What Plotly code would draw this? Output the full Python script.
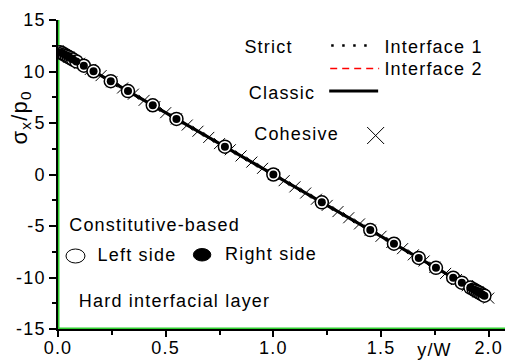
import plotly.graph_objects as go

# ---------------- data ----------------
line_x = [0.0, 0.5, 1.0, 1.5, 2.0]
strict_interface1 = [12.0, 6.0, 0.0, -6.0, -12.0]
strict_interface2 = [12.0, 6.0, 0.0, -6.0, -12.0]
classic = [12.0, 6.0, 0.0, -6.0, -12.0]

cohesive_x = [0.00, 0.05, 0.10, 0.15, 0.20, 0.25, 0.30, 0.35, 0.40, 0.45,
              0.50, 0.55, 0.60, 0.65, 0.70, 0.75, 0.80, 0.85, 0.90, 0.95,
              1.00, 1.05, 1.10, 1.15, 1.20, 1.25, 1.30, 1.35, 1.40, 1.45,
              1.50, 1.55, 1.60, 1.65, 1.70, 1.75, 1.80, 1.85, 1.90, 1.95, 2.00]
cohesive_y = [12.0, 11.4, 10.8, 10.2, 9.6, 9.0, 8.4, 7.8, 7.2, 6.6,
              6.0, 5.4, 4.8, 4.2, 3.6, 3.0, 2.4, 1.8, 1.2, 0.6,
              0.0, -0.6, -1.2, -1.8, -2.4, -3.0, -3.6, -4.2, -4.8, -5.4,
              -6.0, -6.6, -7.2, -7.8, -8.4, -9.0, -9.6, -10.2, -10.8, -11.4, -12.0]

const_x = [0.01, 0.02, 0.03, 0.04, 0.05, 0.06, 0.07, 0.085, 0.12, 0.165,
           0.245, 0.325, 0.44, 0.55, 0.775, 1.0, 1.225, 1.45, 1.56, 1.675,
           1.755, 1.835, 1.875, 1.915, 1.93, 1.94, 1.95, 1.96, 1.97, 1.98]
left_side = [11.88, 11.76, 11.64, 11.52, 11.40, 11.28, 11.16, 10.98, 10.56, 10.02,
             9.06, 8.10, 6.72, 5.40, 2.70, 0.00, -2.70, -5.40, -6.72, -8.10,
             -9.06, -10.02, -10.50, -10.98, -11.16, -11.28, -11.40, -11.52, -11.64, -11.76]
right_side = [11.88, 11.76, 11.64, 11.52, 11.40, 11.28, 11.16, 10.98, 10.56, 10.02,
              9.06, 8.10, 6.72, 5.40, 2.70, 0.00, -2.70, -5.40, -6.72, -8.10,
              -9.06, -10.02, -10.50, -10.98, -11.16, -11.28, -11.40, -11.52, -11.64, -11.76]

x_tickvals = [0.0, 0.5, 1.0, 1.5, 2.0]
x_ticktext = ["0.0", "0.5", "1.0", "1.5", "2.0"]
y_tickvals = [-15, -10, -5, 0, 5, 10, 15]
y_ticktext = ["-15", "-10", "-5", "0", "5", "10", "15"]

# ---------------- layout geometry ----------------
W, H = 505, 360
L, T, B = 57.5, 20, 31
PW, PH = W - L, H - T - B
FONT = "Liberation Sans, Arial, sans-serif"
FS = 18


def px(xp):
    return (xp - L) / PW


def py(yp):
    return (H - B - yp) / PH


fig = go.Figure()
fig.add_trace(go.Scatter(x=line_x, y=strict_interface2, mode="lines",
                         line=dict(color="red", width=1.5, dash="dash"), showlegend=False))
fig.add_trace(go.Scatter(x=line_x, y=strict_interface1, mode="lines",
                         line=dict(color="black", width=2, dash="dot"), showlegend=False))
fig.add_trace(go.Scatter(x=line_x, y=classic, mode="lines",
                         line=dict(color="black", width=3), showlegend=False))
fig.add_trace(go.Scatter(x=cohesive_x, y=cohesive_y, mode="markers",
                         marker=dict(symbol="x-thin-open", size=11, color="black",
                                     line=dict(color="black", width=1)),
                         showlegend=False))
fig.add_trace(go.Scatter(x=const_x, y=left_side, mode="markers",
                         marker=dict(symbol="circle", size=13, color="white",
                                     line=dict(color="black", width=1.5)),
                         showlegend=False))
fig.add_trace(go.Scatter(x=const_x, y=right_side, mode="markers",
                         marker=dict(symbol="circle", size=8, color="black",
                                     line=dict(width=0)),
                         showlegend=False))

shapes = []
# green fringe behind the axes
shapes.append(dict(type="line", xref="paper", yref="paper", x0=0, x1=1, y0=0, y1=0,
                   line=dict(color="#2fd02f", width=3), layer="below"))
shapes.append(dict(type="line", xref="paper", yref="paper", x0=0, x1=0, y0=0, y1=1,
                   line=dict(color="#2fd02f", width=3), layer="below"))
# legend line samples
shapes.append(dict(type="line", xref="paper", yref="paper", x0=px(331), x1=px(374),
                   y0=py(45.5), y1=py(45.5), line=dict(color="black", width=2.5, dash="2.5px,8.5px")))
shapes.append(dict(type="line", xref="paper", yref="paper", x0=px(330), x1=px(379),
                   y0=py(68.5), y1=py(68.5), line=dict(color="red", width=1.5, dash="7px,5px")))
shapes.append(dict(type="line", xref="paper", yref="paper", x0=px(329), x1=px(378),
                   y0=py(91), y1=py(91), line=dict(color="black", width=3)))
shapes.append(dict(type="line", xref="paper", yref="paper", x0=px(367), x1=px(384),
                   y0=py(127), y1=py(144), line=dict(color="black", width=1)))
shapes.append(dict(type="line", xref="paper", yref="paper", x0=px(367), x1=px(384),
                   y0=py(144), y1=py(127), line=dict(color="black", width=1)))
shapes.append(dict(type="circle", xref="paper", yref="paper", x0=px(65.5), x1=px(84.5),
                   y0=py(263), y1=py(249), line=dict(color="black", width=1), fillcolor="white"))
shapes.append(dict(type="circle", xref="paper", yref="paper", x0=px(193), x1=px(210.5),
                   y0=py(261), y1=py(248.5), line=dict(color="black", width=1), fillcolor="black"))

annotations = []


def label(text, cx, cy, angle=0, size=FS):
    annotations.append(dict(text=text, xref="paper", yref="paper", x=px(cx), y=py(cy),
                            xanchor="center", yanchor="middle", showarrow=False,
                            textangle=angle, font=dict(family=FONT, size=size, color="black")))


label("Strict", 268.5, 46.5)
label("Interface 1", 433, 46.5)
label("Interface 2", 433.5, 68.5)
label("Classic", 282, 93)
label("Cohesive", 296, 134)
label("Constitutive-based", 154, 225)
label("Left side", 137, 255)
label("Right side", 270.5, 254)
label("Hard interfacial layer", 174.5, 301)
label("y/W", 434, 350)
label("σ<sub>x</sub>/p<sub>0</sub>", 20, 118, angle=-90, size=22)

fig.update_layout(
    width=W, height=H,
    margin=dict(l=L, r=0, t=T, b=B, pad=0),
    paper_bgcolor="white", plot_bgcolor="rgba(0,0,0,0)",
    showlegend=False,
    shapes=shapes, annotations=annotations,
    font=dict(family=FONT, size=FS, color="black"),
    xaxis=dict(range=[0, PW / 215.6], tickvals=x_tickvals, ticktext=x_ticktext,
               showgrid=False, zeroline=False, showline=True, linecolor="black", linewidth=1.5,
               ticks="outside", ticklen=6, tickwidth=1.5, tickcolor="black",
               ticklabelstandoff=-4,
               minor=dict(dtick=0.25, tick0=0, ticks="outside", ticklen=4, tickwidth=1.5,
                          tickcolor="black", showgrid=False),
               tickfont=dict(family=FONT, size=FS), automargin=False),
    yaxis=dict(range=[-15, 15], tickvals=y_tickvals, ticktext=y_ticktext,
               showgrid=False, zeroline=False, showline=True, linecolor="black", linewidth=1.5,
               ticks="outside", ticklen=7, tickwidth=1.5, tickcolor="black",
               minor=dict(dtick=2.5, tick0=0, ticks="outside", ticklen=4, tickwidth=1.5,
                          tickcolor="black", showgrid=False),
               tickfont=dict(family=FONT, size=FS), automargin=False),
)

post = ("document.querySelectorAll('.main-svg text').forEach(function(t){"
        "t.style.letterSpacing='1.2px';});")
fig.write_html("out.html", post_script=post)
